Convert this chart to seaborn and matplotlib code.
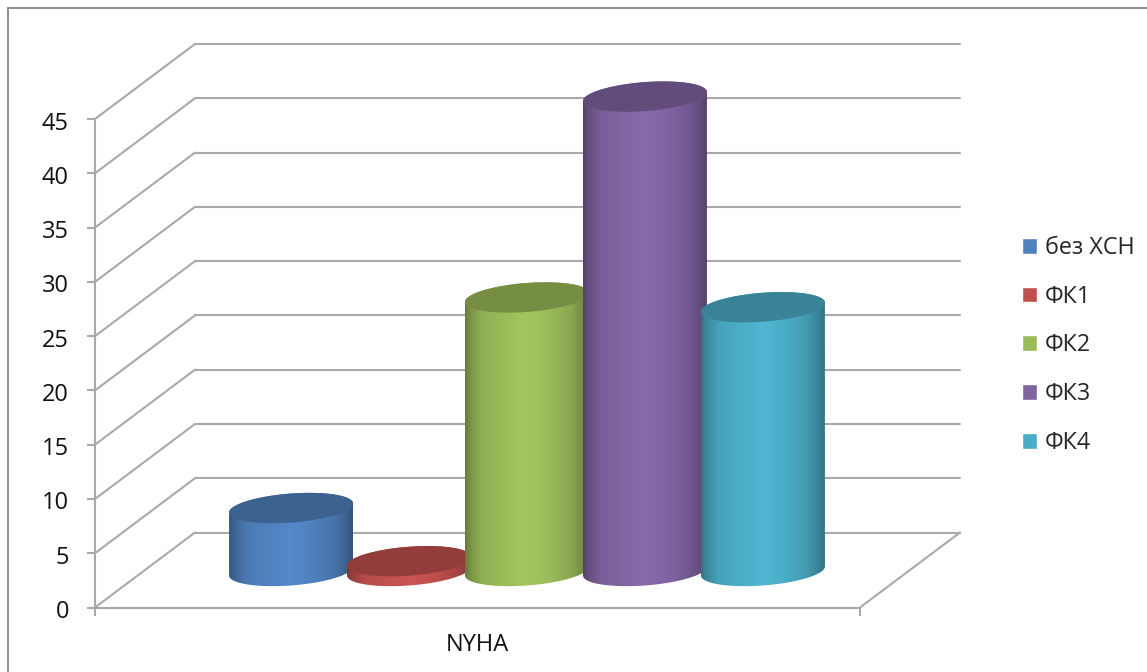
import numpy as np
import pandas as pd
import matplotlib
matplotlib.use("Agg")
import matplotlib.pyplot as plt
from matplotlib.lines import Line2D
from matplotlib.patches import PathPatch
from matplotlib.path import Path
from matplotlib.transforms import ScaledTranslation
import seaborn as sns

category = ["NYHA"]
series = ["без ХСН", "ФК1", "ФК2", "ФК3", "ФК4"]
values = [5.8, 0.9, 25.2, 43.7, 24.3]
colors = ["#4f81bd", "#c0504d", "#9bbb59", "#8064a2", "#4bacc6"]
y_ticks = list(range(0, 50, 5))

W, H = 1147, 672
sns.set_theme(style="white")
plt.rcParams["font.family"] = ["Open Sans", "DejaVu Sans"]
FS = 17

fig = plt.figure(figsize=(W / 100, H / 100), dpi=100)
fig.patch.set_facecolor("white")
L, R, T, B = 95, 860, 119, 607.5
ax = fig.add_axes([L / W, 1 - B / H, (R - L) / W, (B - T) / H])

df = pd.DataFrame({"cat": category * len(series), "series": series, "val": values})
sns.barplot(data=df, x="cat", y="val", hue="series", hue_order=series,
            palette=colors, width=0.771, gap=0, saturation=1, ax=ax, zorder=3)
ax.set_xlim(-0.5, 0.5)
ax.set_ylim(0, 45)
ax.set_xlabel("")
ax.set_ylabel("")

pxx = (R - L) / 1.0      # pixels per x unit
pxy = (B - T) / 45.0     # pixels per y unit
grey = "#a9a9a9"
lw = 1.5
wall_dx, wall_dy = 100 / pxx, 75 / pxy
base_dx, base_dy = 49.5 / pxx, 36.5 / pxy

# 3-D walls and floor
for v in y_ticks:
    ax.plot([-0.5, -0.5 + wall_dx], [v, v + wall_dy], color=grey, lw=lw, clip_on=False, zorder=1)
    ax.plot([-0.5 + wall_dx, 0.5 + wall_dx], [v + wall_dy, v + wall_dy], color=grey, lw=lw,
            clip_on=False, zorder=1)
ax.plot([0.5, 0.5 + wall_dx], [0, wall_dy], color=grey, lw=lw, clip_on=False, zorder=1)

# Axes
for side in ["top", "right"]:
    ax.spines[side].set_visible(False)
for side in ["left", "bottom"]:
    ax.spines[side].set_color(grey)
    ax.spines[side].set_linewidth(lw)
    ax.spines[side].set_zorder(2)
ax.patch.set_alpha(0)
ax.set_yticks(y_ticks)
ax.set_xticks([-0.5, 0.5])
ax.set_xticklabels(["", ""])
ax.set_xticks([0], labels=category, minor=True)
ax.tick_params(axis="y", which="major", left=True, length=5.8, width=lw, color=grey, pad=13,
               labelsize=FS, labelcolor="#111111")
ax.tick_params(axis="x", which="major", bottom=True, length=5.8, width=lw, color=grey)
ax.tick_params(axis="x", which="minor", bottom=False, length=0, pad=18.5,
               labelsize=FS, labelcolor="#111111")
shift = ScaledTranslation(0, -1.5 / 100, fig.dpi_scale_trans)
for lab in ax.get_yticklabels():
    lab.set_transform(lab.get_transform() + shift)

# Cylinders built on the seaborn bars
a_px, b_px, tilt_px = 62.0, 14.5, 4.5
shade_x = [0.0, 0.04, 0.14, 0.3, 0.5, 0.68, 0.85, 0.95, 1.0]
shade_y = [0.66, 0.78, 0.94, 1.0, 1.06, 1.0, 0.9, 0.76, 0.66]
s = np.interp(np.linspace(0, 1, 256), shade_x, shade_y)[None, :, None]


def ring(cx, cy, t):
    return np.column_stack([cx + a_px * np.cos(t) / pxx,
                            cy + (b_px * np.sin(t) + tilt_px * np.cos(t)) / pxy])


for i, cont in enumerate(ax.containers):
    bar = cont[0]
    bar.set_x(bar.get_x() + base_dx)
    bar.set_y(base_dy)
    cx = bar.get_x() + bar.get_width() / 2
    h = bar.get_height()
    z = 3 + i
    bot = ring(cx, base_dy, np.linspace(np.pi, 2 * np.pi, 80))
    top = ring(cx, base_dy + h, np.linspace(0, np.pi, 80))
    body = PathPatch(Path(np.vstack([bot, top, bot[:1]])), fc="none", ec="none",
                     transform=ax.transData, zorder=z, clip_on=False)
    ax.add_patch(body)
    bar.set_zorder(z)
    bar.set_clip_path(body)
    bar.set_clip_box(fig.bbox)
    base_rgb = np.array(matplotlib.colors.to_rgb(colors[i]))
    img = np.clip(base_rgb[None, None, :] * s, 0, 1)
    im = ax.imshow(img, extent=[cx - a_px / pxx, cx + a_px / pxx, base_dy - 16 / pxy,
                                base_dy + h + 16 / pxy],
                   aspect="auto", interpolation="bilinear", zorder=z + 0.1)
    im.set_clip_path(body)
    im.set_clip_box(fig.bbox)
    cap = ring(cx, base_dy + h, np.linspace(0, 2 * np.pi, 160))
    ax.add_patch(PathPatch(Path(cap), fc=tuple(base_rgb * 0.76), ec="none", zorder=z + 0.2,
                           clip_on=False))
ax.set_xlim(-0.5, 0.5)
ax.set_ylim(0, 45)

# Legend
sns.move_legend(ax, loc="upper left", bbox_to_anchor=(1022 / W, 1 - 236 / H),
                bbox_transform=fig.transFigure, frameon=False, title=None,
                fontsize=FS - 0.2, handlelength=0.65, handleheight=0.65,
                handletextpad=0.34, labelspacing=1.06, borderpad=0, borderaxespad=0)

# Outer frame (top and left only)
frame = "#868686"
fig.add_artist(Line2D([8 / W, 8 / W], [0, 1 - 8 / H], color=frame, lw=1.3))
fig.add_artist(Line2D([8 / W, 1], [1 - 8 / H, 1 - 8 / H], color=frame, lw=1.3))

fig.savefig("out.png", dpi=100)
